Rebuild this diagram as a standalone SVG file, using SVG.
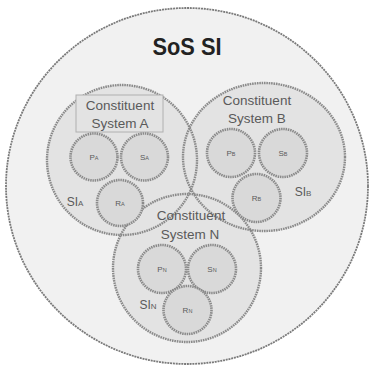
<svg xmlns="http://www.w3.org/2000/svg" width="371" height="368" viewBox="0 0 371 368">
<style>
.outer{fill:#f1f1f1;stroke:#7a7a7a;stroke-width:1.8;stroke-dasharray:2 0.8}
.cs{fill:#e3e3e3}
.csl{fill:none;stroke:#8a8a8a;stroke-width:2.4;stroke-dasharray:1.6 0.8}
.in{fill:#d9d9d9;stroke:#8a8a8a;stroke-width:2.6;stroke-dasharray:1.5 0.8}
.t{font-family:"Liberation Sans",Arial,sans-serif;fill:#5a5a5a;text-anchor:middle}
.lbl{font-size:13.5px}
.sm{font-size:8px}
.si{font-size:12px}
.title{font-family:"Liberation Sans",Arial,sans-serif;font-weight:bold;font-size:23px;fill:#222;text-anchor:middle}
</style>
<g id="sos">
<ellipse class="outer" cx="187" cy="186" rx="181" ry="178"/>
<text class="title" x="187" y="55" textLength="69" lengthAdjust="spacingAndGlyphs">SoS SI</text>
</g>
<g id="fills">
<circle class="cs" cx="122" cy="160" r="75"/>
<ellipse class="cs" cx="264" cy="157" rx="81" ry="74"/>
<circle class="cs" cx="187" cy="268" r="74"/>
</g>
<g id="connectors">
<circle class="csl" cx="122" cy="160" r="75"/>
<ellipse class="csl" cx="264" cy="157" rx="81" ry="74"/>
<circle class="csl" cx="187" cy="268" r="74"/>
</g>
<g id="systemA">
<rect x="76" y="95" width="87" height="37" fill="#e3e3e3" stroke="#b0b0b0" stroke-width="1"/>
<text class="t lbl" x="120" y="110">Constituent</text>
<text class="t lbl" x="120" y="128">System A</text>
<circle class="in" cx="94" cy="157" r="23.5"/>
<circle class="in" cx="144.5" cy="157" r="23.5"/>
<circle class="in" cx="120" cy="203" r="23"/>
<text class="t sm" x="94" y="160">P<tspan font-size="5.5">A</tspan></text>
<text class="t sm" x="144.5" y="160">S<tspan font-size="5.5">A</tspan></text>
<text class="t sm" x="120" y="206">R<tspan font-size="5.5">A</tspan></text>
<text class="t si" x="75" y="206">SI<tspan font-size="8">A</tspan></text>
</g>
<g id="systemB">
<text class="t lbl" x="257" y="105">Constituent</text>
<text class="t lbl" x="257" y="123">System B</text>
<circle class="in" cx="231" cy="153" r="24"/>
<circle class="in" cx="283" cy="153" r="24"/>
<circle class="in" cx="256.5" cy="198" r="24"/>
<text class="t sm" x="231" y="156">P<tspan font-size="5.5">B</tspan></text>
<text class="t sm" x="283" y="156">S<tspan font-size="5.5">B</tspan></text>
<text class="t sm" x="256.5" y="201">R<tspan font-size="5.5">B</tspan></text>
<text class="t si" x="303" y="196">SI<tspan font-size="8">B</tspan></text>
</g>
<g id="systemN">
<text class="t lbl" x="191" y="220">Constituent</text>
<text class="t lbl" x="190" y="239">System N</text>
<circle class="in" cx="162" cy="269" r="24"/>
<circle class="in" cx="212" cy="269" r="24"/>
<circle class="in" cx="187.5" cy="310" r="24"/>
<text class="t sm" x="162" y="272">P<tspan font-size="5.5">N</tspan></text>
<text class="t sm" x="212" y="272">S<tspan font-size="5.5">N</tspan></text>
<text class="t sm" x="187.5" y="313">R<tspan font-size="5.5">N</tspan></text>
<text class="t si" x="148" y="309">SI<tspan font-size="8">N</tspan></text>
</g>
</svg>
